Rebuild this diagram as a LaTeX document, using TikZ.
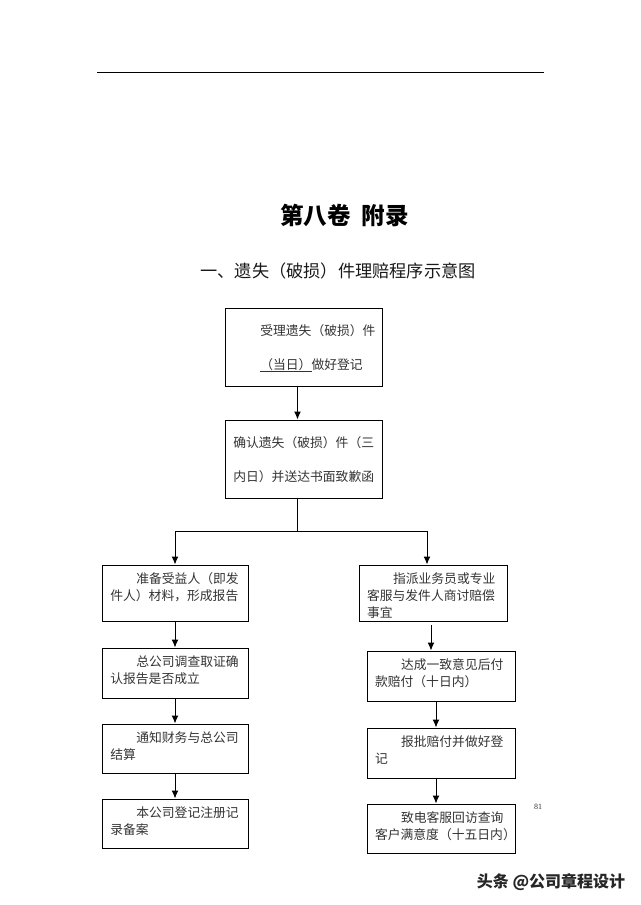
\documentclass[tikz,border=0pt]{standalone}
\usepackage{fontspec}
\setmainfont{Noto Sans CJK SC}
\newfontfamily\pagefont{Liberation Serif}
\usetikzlibrary{arrows.meta}
\tikzset{
	casebox/.style={draw=black, line width=1pt, anchor=north west, inner ysep=0pt, inner xsep=8pt, align=left, text=black!80, text height=18pt, font=\fontsize{12.8}{17.2}\selectfont},
	topbox/.style={casebox, text width=141pt, text height=27pt, text depth=51pt, font=\fontsize{12.8}{34}\selectfont},
	leftbox/.style={casebox, text width=130.5pt},
	rightbox/.style={casebox, text width=132pt},
	flowline/.style={line width=1pt, -{Latex[length=8pt,width=7pt]}},
	plainline/.style={line width=1pt}
}
\begin{document}
\begin{tikzpicture}[x=1pt, y=-1pt]
			%%%%% START %%%%%
			\useasboundingbox (0, 0) rectangle (640, 905);
			
			\coordinate (ruleleft) at (97, 72);
			\coordinate (ruleright) at (544, 72);
			\draw[plainline] (ruleleft) -- (ruleright);
			
			\node[font=\fontsize{23.5}{26}\selectfont\bfseries] (title) at (344.5, 216) {第八卷\hspace{11pt}附录};
			\node[font=\fontsize{17.2}{20}\selectfont, text=black!90] (heading) at (338, 271) {一、遗失（破损）件理赔程序示意图};
			
			\node[topbox] (accept) at (224.8, 307.5) {\hspace*{27pt}受理遗失（破损）件\\\hspace*{27pt}\underline{（当日）}做好登记};
			\node[topbox] (confirm) at (224.8, 419.5) {确认遗失（破损）件（三\\内日）并送达书面致歉函};
			
			\node[leftbox, text depth=38pt] (prepare) at (101.8, 564.5) {\hspace*{26pt}准备受益人（即发\\件人）材料，形成报告};
			\node[leftbox, text depth=32pt] (survey) at (101.8, 647.5) {\hspace*{26pt}总公司调查取证确\\认报告是否成立};
			\node[leftbox, text depth=31pt] (settle) at (101.8, 723.5) {\hspace*{26pt}通知财务与总公司\\结算};
			\node[leftbox, text depth=31pt] (archive) at (101.8, 798.5) {\hspace*{26pt}本公司登记注册记\\录备案};
			
			\node[rightbox, text depth=38pt] (assign) at (358.5, 564.5) {\hspace*{26pt}指派业务员或专业\\客服与发件人商讨赔偿\\事宜};
			\node[rightbox, text depth=32pt] (agree) at (366.5, 650.5) {\hspace*{26pt}达成一致意见后付\\款赔付（十日内）};
			\node[rightbox, text depth=32pt] (report) at (366.5, 727.5) {\hspace*{26pt}报批赔付并做好登\\记};
			\node[rightbox, text depth=31pt] (visit) at (366.5, 803.5) {\hspace*{26pt}致电客服回访查询\\客户满意度（十五日内）};
			
			\coordinate (axis) at (297.5, 0);
			\coordinate (split) at (297.5, 531);
			\coordinate (leftaxis) at (175, 0);
			\coordinate (rightaxis) at (427, 0);
			\coordinate (assignout) at (431, 625);
			\coordinate (agreeaxis) at (436, 0);
			
			\draw[flowline] (axis |- accept.south) -- (axis |- confirm.north);
			\draw[plainline] (axis |- confirm.south) -- (split);
			\draw[flowline] (split) -| (leftaxis |- prepare.north);
			\draw[flowline] (split) -| (rightaxis |- assign.north);
			
			\draw[flowline] (leftaxis |- prepare.south) -- (leftaxis |- survey.north);
			\draw[flowline] (leftaxis |- survey.south) -- (leftaxis |- settle.north);
			\draw[flowline] (leftaxis |- settle.south) -- (leftaxis |- archive.north);
			
			\draw[flowline] (assignout) -- (assignout |- agree.north);
			\draw[flowline] (agreeaxis |- agree.south) -- (agreeaxis |- report.north);
			\draw[flowline] (agreeaxis |- report.south) -- (agreeaxis |- visit.north);
			
			\node[font=\fontsize{8}{10}\selectfont\pagefont, text=black!80] (pagenum) at (538, 807) {81};
			\node[font=\fontsize{16}{18}\selectfont\bfseries, text=black!85] (mark) at (551, 882) {头条 @公司章程设计};
			%%%%% END %%%%%
\end{tikzpicture}
\end{document}
